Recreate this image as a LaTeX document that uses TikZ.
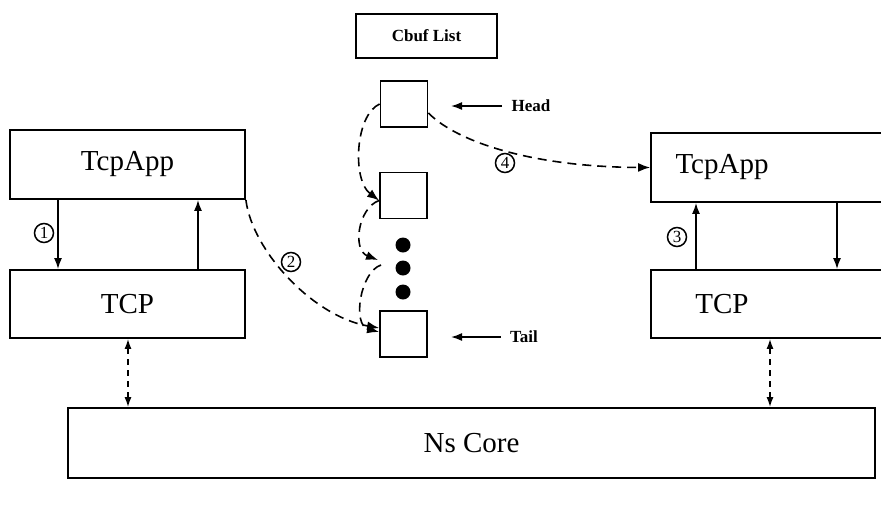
\documentclass[tikz,border=0pt]{standalone}
\usepackage{fontspec}
\setmainfont{Liberation Serif}
\usetikzlibrary{arrows.meta}
\begin{document}
\begin{tikzpicture}[x=1pt,y=-1pt,
  box/.style={draw, line width=1.8pt, inner sep=0pt},
  big/.style={font=\fontsize{29}{31}\selectfont},
  lbl/.style={font=\bfseries\fontsize{17}{19}\selectfont},
  num/.style={draw, circle, line width=1.5pt, inner sep=0pt, minimum size=19pt, font=\fontsize{17}{17}\selectfont},
  arr/.style={line width=1.6pt, -{Latex[length=11pt,width=8pt]}},
  darr/.style={line width=1.6pt, dash pattern=on 9pt off 6pt, -{Latex[length=12pt,width=9pt]}},
  dbl/.style={line width=1.5pt, dash pattern=on 6pt off 5pt, {Latex[length=10pt,width=7pt]}-{Latex[length=10pt,width=7pt]}},
  sq/.style={box, minimum width=47pt, minimum height=46pt},
  dot/.style={fill, circle, inner sep=0pt, minimum size=15pt},
]
\clip (0,0) rectangle (881,504);
\fill[white] (0,0) rectangle (881,504);

% main boxes
\node[box, big, minimum width=235pt, minimum height=69pt] (lapp) at (127.5,164.5) {TcpApp};
\node[box, big, minimum width=235pt, minimum height=68pt] (ltcp) at (127.5,304) {TCP};
\node[box, minimum width=249pt, minimum height=69pt] (rapp) at (775.5,167.5) {};
\node[big] (rappt) at (722,167.5) {TcpApp};
\node[box, minimum width=249pt, minimum height=68pt] (rtcp) at (775.5,304) {};
\node[big] (rtcpt) at (722,304) {TCP};
\node[box, big, minimum width=807pt, minimum height=70pt] (core) at (471.5,443) {Ns Core};

% cbuf list
\node[box, minimum width=141pt, minimum height=44pt, font=\bfseries\fontsize{17}{19}\selectfont] (cbuf) at (426.5,36) {Cbuf List};
\node[sq] (b1) at (404,104) {};
\node[sq] (b2) at (403.5,195.5) {};
\node[sq] (b3) at (403.5,334) {};
\node[dot] (d1) at (403,245) {};
\node[dot] (d2) at (403,268) {};
\node[dot] (d3) at (403,292) {};

\node[lbl] (head) at (531,106) {Head};
\node[lbl] (tail) at (524,337) {Tail};
\coordinate (ha) at (451,106);
\coordinate (ta) at (451,337);
\draw[arr] (head.west) ++(-6,0) -- (ha);
\draw[arr] (tail.west) ++(-6,0) -- (ta);

% vertical arrows
\coordinate (x1) at (58,0);
\coordinate (x2) at (198,0);
\coordinate (x3) at (696,0);
\coordinate (x4) at (837,0);
\coordinate (x5) at (128,0);
\coordinate (x6) at (770,0);
\draw[arr] (lapp.south -| x1) -- (ltcp.north -| x1);
\draw[arr] (ltcp.north -| x2) -- (lapp.south -| x2);
\draw[arr] (rtcp.north -| x3) -- (rapp.south -| x3);
\draw[arr] (rapp.south -| x4) -- (rtcp.north -| x4);
\draw[dbl] (ltcp.south -| x5) -- (core.north -| x5);
\draw[dbl] (rtcp.south -| x6) -- (core.north -| x6);

% numbered labels
\node[num] (n1) at (44,233) {1};
\node[num] (n2) at (291,262) {2};
\node[num] (n3) at (677,237) {3};
\node[num] (n4) at (505,163) {4};

% dashed curves
\draw[darr] (lapp.south east) .. controls (252,250) and (312,316) .. ([yshift=6pt]b3.west);
\draw[darr] ([yshift=-9pt]b1.east) .. controls (458,143) and (535,167) .. (rapp.west);
\coordinate (m1) at (378,260);
\coordinate (m2) at (381,265);
\draw[darr] (b1.west) .. controls (355,115) and (352,180) .. ([yshift=-5pt]b2.west);
\draw[darr] ([yshift=-5pt]b2.west) .. controls (358,208) and (352,250) .. (m1);
\draw[darr] (m2) .. controls (360,272) and (352,325) .. ([yshift=2pt]b3.west);
\end{tikzpicture}
\end{document}
